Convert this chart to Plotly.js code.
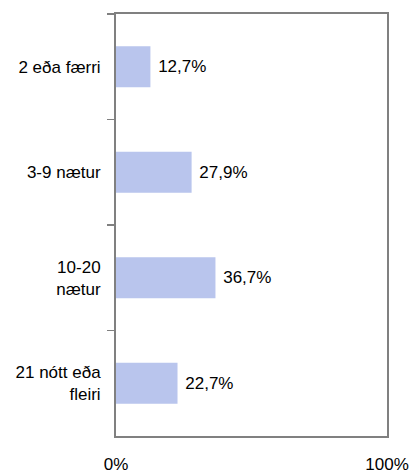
<!DOCTYPE html>
<html>
<head>
<meta charset="utf-8">
<script src="https://cdn.plot.ly/plotly-3.0.1.min.js"></script>
<style>html,body{margin:0;padding:0;background:#fff;}#chart{width:415px;height:474px;}</style>
</head>
<body>
<div id="chart"></div>
<script>
const categories = ["2 eða færri", "3-9 nætur", "10-20<br>nætur", "21 nótt eða<br>fleiri"];
const values = [12.7, 27.9, 36.7, 22.7];
const valueLabels = ["12,7%", "27,9%", "36,7%", "22,7%"];
const xTickVals = [0, 100];
const xTickText = ["0%", "100%"];

const FONT = "'Liberation Sans', Arial, sans-serif";
const FS = 17;

const trace = {
  type: "bar",
  orientation: "h",
  y: categories,
  x: values,
  width: 0.39,
  marker: {color: "#b9c5ed", line: {width: 0}},
  text: valueLabels.map(t => " " + t),
  textposition: "outside",
  constraintext: "none",
  cliponaxis: false,
  textfont: {family: FONT, size: FS, color: "#000"},
  hoverinfo: "none"
};

const layout = {
  width: 415,
  height: 474,
  margin: {l: 116, r: 28, t: 14, b: 38},
  paper_bgcolor: "#fff",
  plot_bgcolor: "#fff",
  showlegend: false,
  font: {family: FONT, size: FS, color: "#000"},
  xaxis: {
    range: [0, 100],
    tickvals: xTickVals,
    ticktext: xTickText,
    ticks: "",
    showgrid: false,
    zeroline: false,
    showline: true,
    linecolor: "#808080",
    linewidth: 2,
    mirror: true,
    ticklabelstandoff: 12,
    tickfont: {family: FONT, size: FS, color: "#000"}
  },
  yaxis: {
    type: "category",
    range: [3.5, -0.5],
    tickson: "boundaries",
    ticks: "outside",
    ticklen: 7,
    tickwidth: 1.5,
    tickcolor: "#808080",
    showgrid: false,
    zeroline: false,
    showline: true,
    linecolor: "#808080",
    linewidth: 2,
    mirror: true,
    ticklabelstandoff: 10,
    tickfont: {family: FONT, size: FS, color: "#000"}
  }
};

Plotly.newPlot("chart", [trace], layout, {staticPlot: true, displayModeBar: false});
</script>
</body>
</html>
